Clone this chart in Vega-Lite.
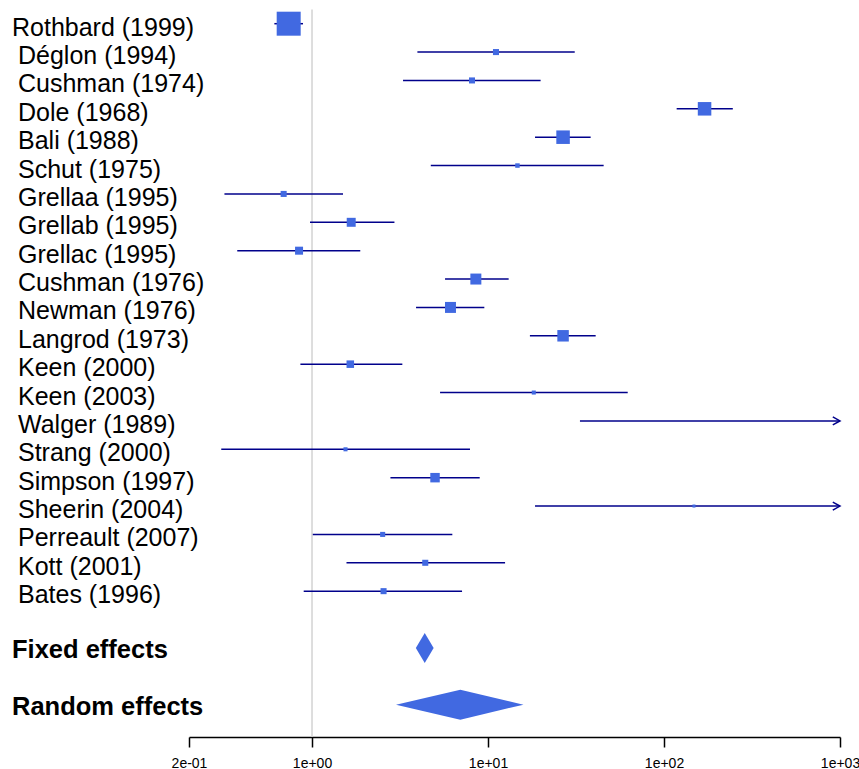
{
  "$schema": "https://vega.github.io/schema/vega-lite/v6.json",
  "padding": {"left": 12, "top": 0, "right": 0, "bottom": 0},
  "background": "white",
  "config": {"view": {"stroke": null}, "font": "Liberation Sans"},
  "datasets": {
    "studies": [
      {"row": 1, "label": "Rothbard (1999)", "est": 0.737, "lo": 0.611, "hi": 0.889, "weight": 31.5},
      {"row": 2, "label": "Déglon (1994)", "est": 11.1, "lo": 3.97, "hi": 31.1, "weight": 2.0},
      {"row": 3, "label": "Cushman (1974)", "est": 8.11, "lo": 3.29, "hi": 19.9, "weight": 2.0},
      {"row": 4, "label": "Dole (1968)", "est": 170, "lo": 118, "hi": 246, "weight": 10.0},
      {"row": 5, "label": "Bali (1988)", "est": 26.7, "lo": 18.5, "hi": 38.3, "weight": 10.0},
      {"row": 6, "label": "Schut (1975)", "est": 14.7, "lo": 4.73, "hi": 45.4, "weight": 1.1},
      {"row": 7, "label": "Grellaa (1995)", "est": 0.69, "lo": 0.318, "hi": 1.5, "weight": 2.0},
      {"row": 8, "label": "Grellab (1995)", "est": 1.67, "lo": 0.974, "hi": 2.94, "weight": 4.4},
      {"row": 9, "label": "Grellac (1995)", "est": 0.844, "lo": 0.376, "hi": 1.88, "weight": 3.5},
      {"row": 10, "label": "Cushman (1976)", "est": 8.53, "lo": 5.7, "hi": 13.1, "weight": 6.6},
      {"row": 11, "label": "Newman (1976)", "est": 6.12, "lo": 3.9, "hi": 9.53, "weight": 6.6},
      {"row": 12, "label": "Langrod (1973)", "est": 26.7, "lo": 17.3, "hi": 40.9, "weight": 7.2},
      {"row": 13, "label": "Keen (2000)", "est": 1.65, "lo": 0.859, "hi": 3.26, "weight": 3.1},
      {"row": 14, "label": "Keen (2003)", "est": 18.2, "lo": 5.34, "hi": 62.2, "weight": 0.9},
      {"row": 15, "label": "Walger (1989)", "est": 1500, "lo": 33.3, "hi": 67600, "weight": 0.2},
      {"row": 16, "label": "Strang (2000)", "est": 1.55, "lo": 0.305, "hi": 7.9, "weight": 0.9},
      {"row": 17, "label": "Simpson (1997)", "est": 5.0, "lo": 2.79, "hi": 8.97, "weight": 4.9},
      {"row": 18, "label": "Sheerin (2004)", "est": 148, "lo": 18.5, "hi": 1184, "weight": 0.5},
      {"row": 19, "label": "Perreault (2007)", "est": 2.52, "lo": 1.01, "hi": 6.27, "weight": 1.4},
      {"row": 20, "label": "Kott (2001)", "est": 4.4, "lo": 1.57, "hi": 12.5, "weight": 2.0},
      {"row": 21, "label": "Bates (1996)", "est": 2.55, "lo": 0.897, "hi": 7.12, "weight": 2.0}
    ],
    "summary": [
      {"row": 23, "label": "Fixed effects", "est": 4.37, "lo": 3.89, "hi": 4.91},
      {"row": 25, "label": "Random effects", "est": 6.96, "lo": 3.0, "hi": 15.9}
    ]
  },
  "spacing": 0,
  "bounds": "flush",
  "hconcat": [
    {
      "width": 177,
      "height": 737,
      "layer": [
        {
          "data": {"name": "studies"},
          "transform": [{"filter": "datum.row == 1"}],
          "mark": {"type": "text", "align": "left", "baseline": "alphabetic", "dy": 12, "fontSize": 25, "color": "black"},
          "encoding": {
            "x": {"datum": 0, "type": "quantitative", "scale": {"domain": [0, 1], "nice": false}, "axis": null},
            "y": {"field": "row", "type": "quantitative", "scale": {"domain": [0.165, 26.14], "reverse": true, "nice": false, "zero": false}, "axis": null},
            "text": {"field": "label"}
          }
        },
        {
          "data": {"name": "studies"},
          "transform": [{"filter": "datum.row > 1"}],
          "mark": {"type": "text", "align": "left", "baseline": "alphabetic", "dx": 6, "dy": 12, "fontSize": 25, "color": "black"},
          "encoding": {
            "x": {"datum": 0, "type": "quantitative"},
            "y": {"field": "row", "type": "quantitative"},
            "text": {"field": "label"}
          }
        },
        {
          "data": {"name": "summary"},
          "mark": {"type": "text", "align": "left", "baseline": "alphabetic", "dy": 10.5, "fontSize": 25.5, "fontWeight": "bold", "color": "black"},
          "encoding": {
            "x": {"datum": 0, "type": "quantitative"},
            "y": {"field": "row", "type": "quantitative"},
            "text": {"field": "label"}
          }
        }
      ]
    },
    {
      "width": 651,
      "height": 737,
      "layer": [
        {
          "data": {"values": [{"ref": 1}]},
          "mark": {"type": "rule", "color": "#d3d3d3", "strokeWidth": 1.5},
          "encoding": {
            "x": {
              "field": "ref", "type": "quantitative",
              "scale": {"type": "log", "domain": [0.2, 1000], "nice": false},
              "axis": {
                "values": [0.2, 1, 10, 100, 1000],
                "labelExpr": "datum.value < 0.5 ? '2e-01' : datum.value < 5 ? '1e+00' : datum.value < 50 ? '1e+01' : datum.value < 500 ? '1e+02' : '1e+03'",
                "title": null, "grid": false,
                "domainColor": "black", "domainWidth": 1.5,
                "tickColor": "black", "tickWidth": 1.5, "tickSize": 10,
                "labelFontSize": 14, "labelColor": "black", "labelPadding": 9,
                "labelFlush": false, "labelOverlap": false
              }
            },
            "y": {"datum": 0.5, "type": "quantitative", "scale": {"domain": [0.165, 26.14], "reverse": true, "nice": false, "zero": false}, "axis": null},
            "y2": {"datum": 26.14}
          }
        },
        {
          "data": {"name": "studies"},
          "mark": {"type": "rule", "color": "#00008b", "strokeWidth": 1.5, "clip": true},
          "encoding": {
            "x": {"field": "lo", "type": "quantitative"},
            "x2": {"field": "hi"},
            "y": {"field": "row", "type": "quantitative"}
          }
        },
        {
          "data": {"name": "studies"},
          "transform": [{"filter": "datum.hi > 1000"}],
          "mark": {"type": "point", "shape": "M-1.8,-1L0,0L-1.8,1", "filled": false, "stroke": "#00008b", "strokeWidth": 1.5, "size": 64, "opacity": 1},
          "encoding": {
            "x": {"datum": 1000, "type": "quantitative"},
            "y": {"field": "row", "type": "quantitative"}
          }
        },
        {
          "data": {"name": "studies"},
          "mark": {"type": "point", "shape": "square", "filled": true, "color": "#4169e1", "opacity": 1, "clip": true},
          "encoding": {
            "x": {"field": "est", "type": "quantitative"},
            "y": {"field": "row", "type": "quantitative"},
            "size": {"field": "weight", "type": "quantitative", "scale": {"type": "linear", "domain": [0, 31.5], "range": [0, 576]}, "legend": null}
          }
        },
        {
          "data": {"name": "summary"},
          "transform": [{"fold": ["lo", "est", "hi"], "as": ["vertex", "xval"]}],
          "mark": {"type": "area", "color": "#4169e1", "opacity": 1,
                   "yOffset": {"expr": "datum.vertex == 'est' ? -15 : 0"},
                   "y2Offset": {"expr": "datum.vertex == 'est' ? 15 : 0"}},
          "encoding": {
            "x": {"field": "xval", "type": "quantitative"},
            "y": {"field": "row", "type": "quantitative"},
            "y2": {"field": "row"},
            "detail": {"field": "label"}
          }
        }
      ]
    }
  ]
}
